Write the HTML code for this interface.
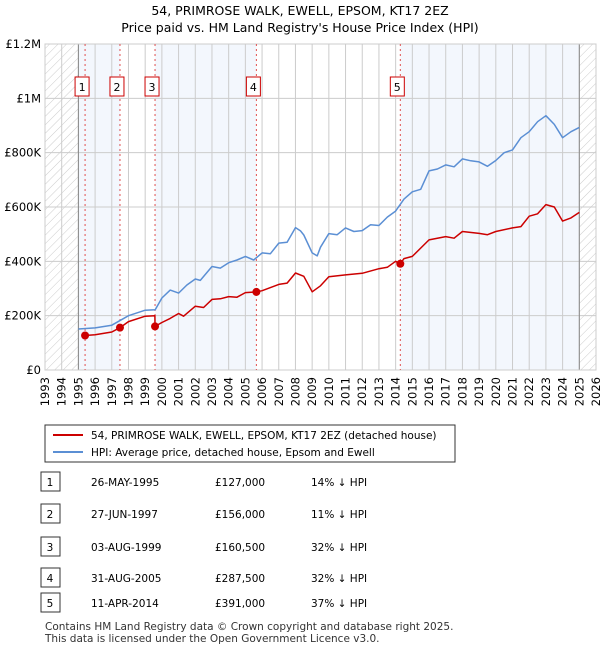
<!DOCTYPE html>
<html><head><meta charset="utf-8"><style>
body{margin:0;background:#fff;font-family:"Liberation Sans","DejaVu Sans",sans-serif;}
svg text{font-family:"DejaVu Sans","Liberation Sans",sans-serif;}
</style></head><body>
<svg id="c" width="600" height="650" viewBox="0 0 600 650">
<defs><pattern id="hatch" width="6" height="6" patternUnits="userSpaceOnUse" patternTransform="rotate(45)"><line x1="0" y1="0" x2="0" y2="6" stroke="#ccc" stroke-width="1"/></pattern></defs>
<text x="300" y="15" text-anchor="middle" font-size="12.5">54, PRIMROSE WALK, EWELL, EPSOM, KT17 2EZ</text>
<text x="300" y="32" text-anchor="middle" font-size="12.5">Price paid vs. HM Land Registry's House Price Index (HPI)</text>
<g id="plot"></g>
<g>
<rect x="45" y="425" width="410" height="37" fill="#fff" stroke="#333" stroke-width="1"/>
<line x1="53" y1="435" x2="83" y2="435" stroke="#cc0000" stroke-width="2"/>
<text x="91" y="439" font-size="10.5">54, PRIMROSE WALK, EWELL, EPSOM, KT17 2EZ (detached house)</text>
<line x1="53" y1="452" x2="83" y2="452" stroke="#5b8fd4" stroke-width="2"/>
<text x="91" y="456" font-size="10.5">HPI: Average price, detached house, Epsom and Ewell</text>
</g>
<g id="table" font-size="10.5"></g>
<text x="45" y="630" font-size="10.5" fill="#333">Contains HM Land Registry data © Crown copyright and database right 2025.</text>
<text x="45" y="642" font-size="10.5" fill="#333">This data is licensed under the Open Government Licence v3.0.</text>
</svg>
<script>
const hpiYears=[1995,1996,1997,1998,1999,1999.6,2000,2000.5,2001,2001.5,2002,2002.3,2003,2003.5,2004,2004.5,2005,2005.5,2006,2006.5,2007,2007.5,2008,2008.3,2008.5,2009,2009.3,2009.5,2010,2010.5,2011,2011.5,2012,2012.5,2013,2013.5,2014,2014.5,2015,2015.5,2016,2016.5,2017,2017.5,2018,2018.5,2019,2019.5,2020,2020.5,2021,2021.5,2022,2022.5,2023,2023.5,2024,2024.5,2025];
const hpiValues=[151,155,165,200,220,222,265,294,283,313,335,330,381,375,395,405,418,405,431,428,467,470,524,512,497,431,420,452,502,498,523,510,513,535,532,563,585,629,656,665,733,740,755,748,777,770,766,750,771,800,810,855,877,914,936,904,855,877,893];
const ppYears=[1995.4,1996,1997,1997.5,1998,1999,1999.58,1999.59,2000,2000.5,2001,2001.3,2002,2002.5,2003,2003.5,2004,2004.5,2005,2005.67,2006,2007,2007.5,2008,2008.5,2009,2009.5,2010,2011,2012,2013,2013.5,2014,2014.28,2014.5,2015,2016,2017,2017.5,2018,2019,2019.5,2020,2021,2021.5,2022,2022.5,2023,2023.5,2024,2024.5,2025];
const ppValues=[127,130,140,156,178,198,200,160.5,175,190,208,198,235,230,260,262,270,268,285,287.5,292,315,320,357,345,288,310,343,350,356,373,378,400,391,410,418,479,491,485,510,503,498,510,523,528,566,575,609,600,548,560,580];
const saleYears=[1995.4,1997.49,1999.59,2005.66,2014.28];
const saleValues=[127,156,160.5,287.5,391];
const saleLabels=["1","2","3","4","5"];
const yTicks=[0,200,400,600,800,1000,1200];
const yTickLabels=["£0","£200K","£400K","£600K","£800K","£1M","£1.2M"];
const tDates=["26-MAY-1995","27-JUN-1997","03-AUG-1999","31-AUG-2005","11-APR-2014"];
const tPrices=["£127,000","£156,000","£160,500","£287,500","£391,000"];
const tHpi=["14% ↓ HPI","11% ↓ HPI","32% ↓ HPI","32% ↓ HPI","37% ↓ HPI"];

const NS="http://www.w3.org/2000/svg";
const X0=45,X1=596,Y0=370,Y1=44,YR0=1993,YR1=2026,VMAX=1200;
const xs=y=>X0+(y-YR0)/(YR1-YR0)*(X1-X0);
const ys=v=>Y0-v/VMAX*(Y0-Y1);
const plot=document.getElementById('plot');
function mk(tag,a,parent){const e=document.createElementNS(NS,tag);for(const k in a)e.setAttribute(k,a[k]);(parent||plot).appendChild(e);return e;}
const bands=[[1995,saleYears[1]],[saleYears[2],saleYears[3]],[saleYears[4],2025]];
bands.forEach(b=>{const r=mk('rect',{x:xs(b[0]),y:Y1,width:xs(b[1])-xs(b[0]),height:Y0-Y1,fill:'#eef3fc',opacity:0.7});

});
let h=mk('rect',{x:X0,y:Y1,width:xs(1995)-X0,height:Y0-Y1,fill:'url(#hatch)'});


h=mk('rect',{x:xs(2025),y:Y1,width:X1-xs(2025),height:Y0-Y1,fill:'url(#hatch)'});


for(let yr=YR0;yr<=YR1;yr++){const l=mk('line',{x1:xs(yr),x2:xs(yr),y1:Y1,y2:Y0,stroke:'#ccc','stroke-width':1});


const t=mk('text',{x:0,y:0,'font-size':11.5,'text-anchor':'end',transform:`translate(${xs(yr)+4},${Y0+7}) rotate(-90)`});t.textContent=yr;

}
yTicks.forEach((v,i)=>{const l=mk('line',{x1:X0,x2:X1,y1:ys(v),y2:ys(v),stroke:'#ccc','stroke-width':1});


const t=mk('text',{x:X0-4,y:ys(v)+4,'font-size':11.5,'text-anchor':'end'});t.textContent=yTickLabels[i];

});
[1995,2025].forEach(y=>{const l=mk('line',{x1:xs(y),x2:xs(y),y1:Y1,y2:Y0,stroke:'#888','stroke-width':1});

});
const fr=mk('rect',{x:X0,y:Y1,width:X1-X0,height:Y0-Y1,fill:'none',stroke:'#ccc'});


saleYears.forEach((s,i)=>{const l=mk('line',{x1:xs(s),x2:xs(s),y1:Y1,y2:Y0,stroke:'#e05050','stroke-width':1,'stroke-dasharray':'2,3'});


const bx=mk('rect',{x:xs(s)-10,y:77,width:14,height:19,fill:'#fff',stroke:'#cc0000'});


const t=mk('text',{x:xs(s)-3,y:91,'font-size':11,'text-anchor':'middle'});t.textContent=saleLabels[i];

});
function line(xa,va,col,name){const d=xa.map((x,i)=>(i?'L':'M')+xs(x).toFixed(1)+','+ys(va[i]).toFixed(1)).join('');
const p=mk('path',{d:d,fill:'none',stroke:col,'stroke-width':1.5,'stroke-linejoin':'round'});

}
line(hpiYears,hpiValues,'#5b8fd4','hpi-line');
line(ppYears,ppValues,'#cc0000','price-paid-line');
saleYears.forEach((s,i)=>{const c=mk('circle',{cx:xs(s),cy:ys(saleValues[i]),r:4,fill:'#cc0000'});

});
const tb=document.getElementById('table');
const rowY=[482,514,547,578,603];
rowY.forEach((y,i)=>{const b=mk('rect',{x:41,y:y-10,width:19,height:19,fill:'#fff',stroke:'#333'},tb);


const cols=[[50,saleLabels[i],'middle'],[91,tDates[i],'start'],[215,tPrices[i],'start'],[311,tHpi[i],'start']];
cols.forEach(c=>{const t=mk('text',{x:c[0],y:y+4,'text-anchor':c[2]},tb);t.textContent=c[1];

});});
</script>
</body></html>
